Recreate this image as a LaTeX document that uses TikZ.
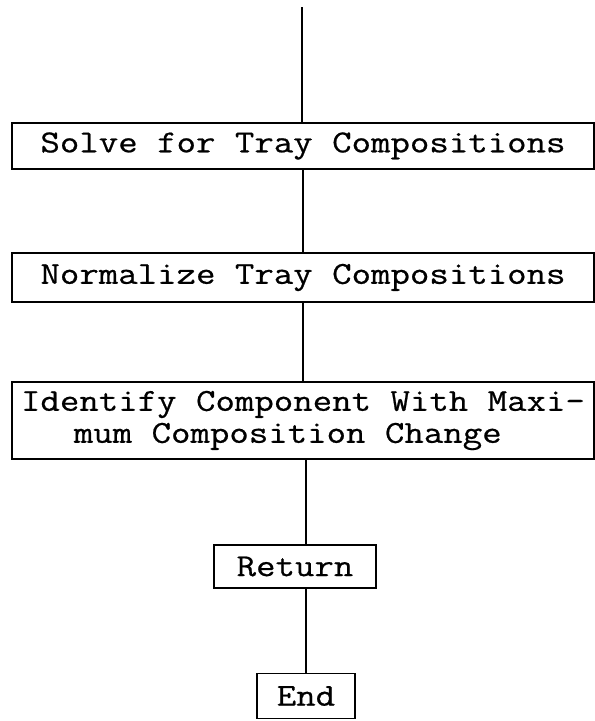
\documentclass[tikz,border=0pt]{standalone}
\usepackage{fontspec}
\setmonofont{Latin Modern Mono}[FakeStretch=1.18,FakeBold=0.6]
\usepackage{tikz}

\begin{document}
\begin{tikzpicture}[x=1pt,y=-1pt,
    box/.style={draw,line width=1.8pt,inner sep=0pt,
      font=\ttfamily\fontsize{32}{32}\selectfont},
    wide/.style={box,minimum width=582pt},
    flow/.style={line width=2.2pt}]
            \useasboundingbox (0,0) rectangle (595,721);
            \coordinate (top) at (302,7);
            \node[wide,minimum height=46pt] at (303,146) (solve) {Solve for Tray Compositions};
            \node[wide,minimum height=49pt] at (303,277.5) (norm) {Normalize Tray Compositions};
            \node[wide,minimum height=77pt,align=left] at (303,420.5) (ident) {Identify Component With Maxi-\\\hspace*{1.65em}mum Composition Change};
            \node[box,minimum width=162pt,minimum height=43pt] at (295,566.5) (ret) {Return};
            \node[box,minimum width=98pt,minimum height=45pt] at (306,696) (end) {End};
            \draw[flow] (top) -- (top |- solve.north);
            \draw[flow] (solve) -- (norm);
            \draw[flow] (norm) -- (ident);
            \draw[flow] (ident.south -| end.north) -- (ret.north -| end.north);
            \draw[flow] (ret.south -| end.north) -- (end);
        \end{tikzpicture}
\end{document}
